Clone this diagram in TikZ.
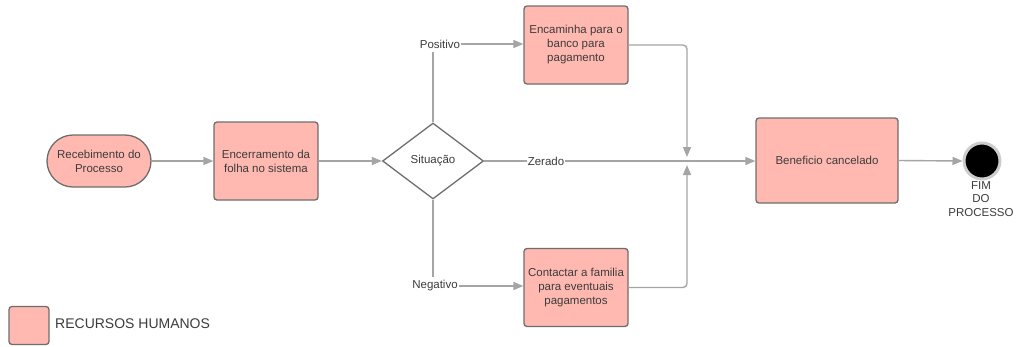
\documentclass[tikz,border=0pt]{standalone}
\usepackage{fontspec}
\setmainfont{Liberation Sans}
\usetikzlibrary{shapes.geometric,arrows.meta}
\definecolor{fillc}{RGB}{255,185,176}
\definecolor{bordc}{RGB}{110,110,110}
\definecolor{linec}{RGB}{165,165,165}
\definecolor{txtc}{RGB}{60,60,60}
\definecolor{ringc}{RGB}{205,205,205}
\begin{document}
\begin{tikzpicture}[x=1pt,y=-1pt,
  every node/.style={font=\fontsize{11.5}{14}\selectfont, text=txtc},
  proc/.style={draw=bordc, fill=fillc, line width=1.3pt, rounded corners=3pt, minimum width=104pt, minimum height=78pt, align=center, inner sep=2pt},
  conn/.style={draw=linec, line width=1.4pt},
  arr/.style={conn, -{Triangle[length=10pt,width=8pt]}},
  lbl/.style={inner sep=1pt}
]
\useasboundingbox (0,0) rectangle (1018,346);
\fill[white] (0,0) rectangle (1018,346);

\node[draw=bordc, fill=fillc, line width=1.3pt, rounded corners=26pt, minimum width=104pt, minimum height=52pt, align=center, inner sep=2pt] (rec) at (99,161) {Recebimento do\\Processo};
\node[proc] (enc) at (266,161) {Encerramento da\\folha no sistema};
\node[diamond, draw=bordc, line width=1.3pt, fill=white, minimum width=101pt, minimum height=76pt, inner sep=0pt, aspect=1.33] (dia) at (433,161) {Situação};
\node[proc] (ban) at (576,45) {Encaminha para o\\banco para\\pagamento};
\node[proc] (fam) at (576,287.5) {Contactar a familia\\para eventuais\\pagamentos};
\node[proc, minimum width=142pt, minimum height=85pt] (ben) at (827,160.5) {Beneficio cancelado};
\node[circle, fill=black, draw=ringc, line width=3pt, minimum size=36pt, inner sep=0pt] (fim) at (982,161) {};
\node[anchor=north, align=center, inner sep=0pt, font=\fontsize{11.5}{13.5}\selectfont] (fimt) at (981,181) {FIM\\DO\\PROCESSO};

\node[lbl] (pos) at (440,44) {Positivo};
\node[lbl] (neg) at (435,286) {Negativo};
\node[lbl] (zer) at (546,161) {Zerado};

\coordinate (jt) at (687,157);
\coordinate (jb) at (687,165);

\draw[arr] (rec.east) -- (enc.west);
\draw[arr] (enc.east) -- (dia.west);
\draw[conn] (dia.north) -- ([yshift=-3pt]dia.north |- pos.south);
\draw[arr] (pos.east) -- (pos.east -| ban.west);
\draw[conn] (dia.south) -- ([yshift=2pt]dia.south |- neg.north);
\draw[arr] (neg.east) -- (neg.east -| fam.west);
\draw[conn] (dia.east) -- (zer.west);
\draw[arr] (zer.east) -- (zer.east -| ben.west);
\draw[arr, rounded corners=4pt] (ban.east) -| (jt);
\draw[arr, rounded corners=4pt] (fam.east) -| (jb);
\draw[arr] (ben.east) -- (fim.west);

\node[draw=bordc, fill=fillc, line width=1.3pt, rounded corners=3pt, minimum width=40pt, minimum height=38pt, inner sep=0pt] (leg) at (29,325.5) {};
\node[anchor=west, inner sep=0pt, font=\fontsize{14}{16}\selectfont] (legt) at (55,324) {RECURSOS HUMANOS};
\end{tikzpicture}
\end{document}
